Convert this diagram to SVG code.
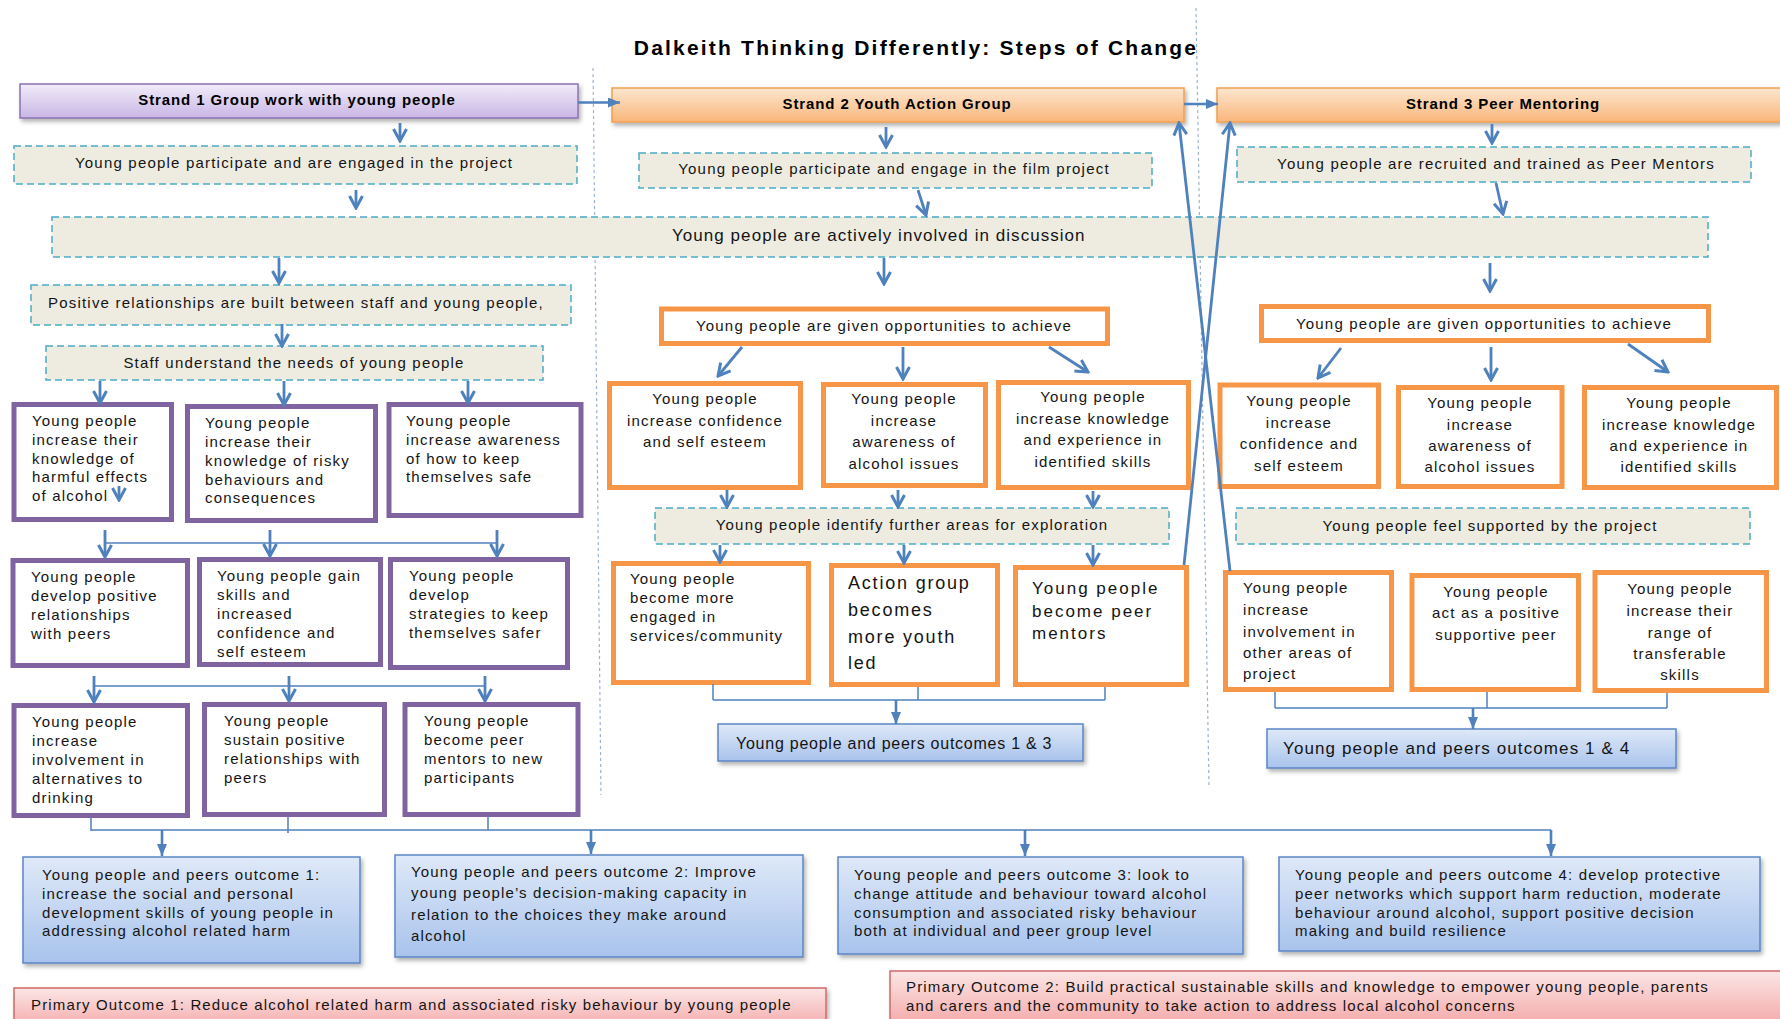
<svg xmlns="http://www.w3.org/2000/svg" width="1780" height="1019" viewBox="0 0 1780 1019">
<style>
text{font-family:"Liberation Sans",Arial,sans-serif;font-size:15px;letter-spacing:1.2px;fill:#141414}
.c{text-anchor:middle}
.hd{font-weight:bold;letter-spacing:0.9px;fill:#000}
.title{font-weight:bold;font-size:21px;letter-spacing:2.2px;fill:#000}
.oc{letter-spacing:1.15px}
.dash{fill:#eeece1;stroke:#4bacc6;stroke-width:1.5;stroke-dasharray:7 4}
.pur{fill:#fff;stroke:#8064a2;stroke-width:5}
.org{fill:#fff;stroke:#f79646;stroke-width:5}
.s1{fill:url(#gPur);stroke:#8a72b0;stroke-width:1.5;filter:url(#sh)}
.s2{fill:url(#gOrg);stroke:#f0a050;stroke-width:1.5;filter:url(#sh)}
.blue{fill:url(#gBlue);stroke:#5b86c5;stroke-width:1.5;filter:url(#sh)}
.pink{fill:url(#gPink);stroke:#d06a6a;stroke-width:1.5;filter:url(#sh)}
.sep{stroke:#9bb3cf;stroke-width:1.2;stroke-dasharray:3 3;fill:none}
.ar{stroke:#4f81bd;stroke-width:2.8;fill:none;marker-end:url(#vee)}
.at{stroke:#4f81bd;stroke-width:2.6;fill:none;marker-end:url(#tri)}
.bus{stroke:#4f81bd;stroke-width:1.5;fill:none}
</style>
<defs>
<linearGradient id="gPur" x1="0" y1="0" x2="0" y2="1"><stop offset="0" stop-color="#f1ecf9"/><stop offset="1" stop-color="#c9b6e5"/></linearGradient>
<linearGradient id="gOrg" x1="0" y1="0" x2="0" y2="1"><stop offset="0" stop-color="#fde6cf"/><stop offset="1" stop-color="#f9b67a"/></linearGradient>
<linearGradient id="gBlue" x1="0" y1="0" x2="0" y2="1"><stop offset="0" stop-color="#dfe9f8"/><stop offset="1" stop-color="#a8c3ec"/></linearGradient>
<linearGradient id="gPink" x1="0" y1="0" x2="0" y2="1"><stop offset="0" stop-color="#fce6e6"/><stop offset="1" stop-color="#f3a2a2"/></linearGradient>
<filter id="sh" x="-5%" y="-20%" width="110%" height="150%"><feDropShadow dx="2" dy="3" stdDeviation="2" flood-color="#000" flood-opacity="0.3"/></filter>
<marker id="vee" viewBox="0 0 16 16" markerWidth="16" markerHeight="16" refX="14" refY="8" orient="auto" markerUnits="userSpaceOnUse"><path d="M2,1.5 L14,8 L2,14.5" fill="none" stroke="#4f81bd" stroke-width="3"/></marker>
<marker id="tri" viewBox="0 0 12 10" markerWidth="12" markerHeight="10" refX="12" refY="5" orient="auto" markerUnits="userSpaceOnUse"><path d="M0,0 L12,5 L0,10 z" fill="#4f81bd"/></marker>
</defs>
<rect width="1780" height="1019" fill="#fff"/>

<g id="separators">
<line class="sep" x1="593" y1="68" x2="601" y2="795"/>
<line class="sep" x1="1196" y1="8" x2="1209" y2="787"/>
</g>

<text id="title" class="title c" x="916" y="55">Dalkeith Thinking Differently: Steps of Change</text>

<g id="strand1"><rect class="s1" x="20" y="84" width="558" height="34"/><text class="hd c" x="297" y="105">Strand 1 Group work with young people</text></g>
<g id="strand2"><rect class="s2" x="612" y="88" width="572" height="34"/><text class="hd c" x="897" y="109">Strand 2 Youth Action Group</text></g>
<g id="strand3"><rect class="s2" x="1217" y="88" width="575" height="34"/><text class="hd c" x="1503" y="109">Strand 3 Peer Mentoring</text></g>

<g id="s1-participate"><rect class="dash" x="14" y="146" width="563" height="38"/><text x="75" y="168">Young people participate and are engaged in the project</text></g>
<g id="s2-participate"><rect class="dash" x="639" y="153" width="513" height="35"/><text class="c" x="894" y="174">Young people participate and engage in the film project</text></g>
<g id="s3-recruited"><rect class="dash" x="1237" y="147" width="514" height="35"/><text class="c" x="1496" y="169">Young people are recruited and trained as Peer Mentors</text></g>

<g id="discussion"><rect class="dash" x="52" y="217" width="1656" height="40"/><text x="672" y="241" style="font-size:17px;letter-spacing:1.05px">Young people are actively involved in discussion</text></g>

<g id="s1-relationships"><rect class="dash" x="31" y="285" width="540" height="40"/><text x="48" y="308">Positive relationships are built between staff and young people,</text></g>
<g id="s1-staff"><rect class="dash" x="46" y="346" width="497" height="34"/><text class="c" x="294" y="368">Staff understand the needs of young people</text></g>

<g id="s2-opportunities"><rect class="org" x="661.5" y="309" width="446" height="34.5"/><text class="c" x="884" y="331">Young people are given opportunities to achieve</text></g>
<g id="s3-opportunities"><rect class="org" x="1261.5" y="306.5" width="447" height="34"/><text class="c" x="1484" y="329">Young people are given opportunities to achieve</text></g>

<g id="s1-a"><rect class="pur" x="14" y="404.5" width="157.5" height="115"/><text x="32" y="426">Young people</text><text x="32" y="445">increase their</text><text x="32" y="463.5">knowledge of</text><text x="32" y="482">harmful effects</text><text x="32" y="501">of alcohol</text></g>
<g id="s1-b"><rect class="pur" x="187.5" y="406.5" width="188" height="114"/><text x="205" y="428">Young people</text><text x="205" y="447">increase their</text><text x="205" y="466">knowledge of risky</text><text x="205" y="484.5">behaviours and</text><text x="205" y="503">consequences</text></g>
<g id="s1-c"><rect class="pur" x="389" y="404.5" width="192" height="111"/><text x="406" y="426">Young people</text><text x="406" y="445">increase awareness</text><text x="406" y="463.5">of how to keep</text><text x="406" y="482">themselves safe</text></g>
<g id="s1-d"><rect class="pur" x="13" y="560.5" width="174.5" height="105"/><text x="31" y="582">Young people</text><text x="31" y="601">develop positive</text><text x="31" y="620">relationships</text><text x="31" y="639">with peers</text></g>
<g id="s1-e"><rect class="pur" x="199.5" y="559.5" width="181" height="105"/><text x="217" y="581">Young people gain</text><text x="217" y="599.5">skills and</text><text x="217" y="618.5">increased</text><text x="217" y="637.5">confidence and</text><text x="217" y="656.5">self esteem</text></g>
<g id="s1-f"><rect class="pur" x="390.5" y="559.5" width="177" height="108"/><text x="409" y="581">Young people</text><text x="409" y="599.5">develop</text><text x="409" y="619">strategies to keep</text><text x="409" y="638">themselves safer</text></g>
<g id="s1-g"><rect class="pur" x="14" y="705.5" width="173.5" height="110"/><text x="32" y="727">Young people</text><text x="32" y="746">increase</text><text x="32" y="765">involvement in</text><text x="32" y="784">alternatives to</text><text x="32" y="803">drinking</text></g>
<g id="s1-h"><rect class="pur" x="204.5" y="704.5" width="180" height="110"/><text x="224" y="726">Young people</text><text x="224" y="745">sustain positive</text><text x="224" y="764">relationships with</text><text x="224" y="783">peers</text></g>
<g id="s1-i"><rect class="pur" x="405" y="704.5" width="173" height="110"/><text x="424" y="726">Young people</text><text x="424" y="745">become peer</text><text x="424" y="764">mentors to new</text><text x="424" y="783">participants</text></g>

<g id="s2-j"><rect class="org" x="609.5" y="383.5" width="191" height="104"/><text class="c" x="705" y="404">Young people</text><text class="c" x="705" y="425.5">increase confidence</text><text class="c" x="705" y="447">and self esteem</text></g>
<g id="s2-k"><rect class="org" x="823.5" y="384.5" width="162" height="101"/><text class="c" x="904" y="404">Young people</text><text class="c" x="904" y="425.5">increase</text><text class="c" x="904" y="447">awareness of</text><text class="c" x="904" y="468.5">alcohol issues</text></g>
<g id="s2-l"><rect class="org" x="998.5" y="382.5" width="190" height="105"/><text class="c" x="1093" y="402">Young people</text><text class="c" x="1093" y="423.5">increase knowledge</text><text class="c" x="1093" y="445">and experience in</text><text class="c" x="1093" y="466.5">identified skills</text></g>
<g id="s2-identify"><rect class="dash" x="655" y="508" width="514" height="36"/><text class="c" x="912" y="530">Young people identify further areas for exploration</text></g>
<g id="s2-m"><rect class="org" x="613.5" y="563.5" width="195" height="119"/><text x="630" y="584">Young people</text><text x="630" y="603">become more</text><text x="630" y="622">engaged in</text><text x="630" y="640.5">services/community</text></g>
<g id="s2-n"><rect class="org" x="831.5" y="565.5" width="166" height="119"/><text x="848" y="589" style="font-size:18px;letter-spacing:1.8px">Action group</text><text x="848" y="616" style="font-size:18px;letter-spacing:1.8px">becomes</text><text x="848" y="643" style="font-size:18px;letter-spacing:1.8px">more youth</text><text x="848" y="669" style="font-size:18px;letter-spacing:1.8px">led</text></g>
<g id="s2-o"><rect class="org" x="1015.5" y="567.5" width="171" height="117"/><text x="1032" y="594" style="font-size:17px;letter-spacing:2px">Young people</text><text x="1032" y="617" style="font-size:17px;letter-spacing:2px">become peer</text><text x="1032" y="639" style="font-size:17px;letter-spacing:2px">mentors</text></g>
<g id="s2-outcomes"><rect class="blue" x="718" y="724" width="365" height="37"/><text x="736" y="749" style="font-size:16px;letter-spacing:0.75px">Young people and peers outcomes 1 &amp; 3</text></g>

<g id="s3-q"><rect class="org" x="1220" y="385" width="158.5" height="101.5"/><text class="c" x="1299" y="406">Young people</text><text class="c" x="1299" y="427.5">increase</text><text class="c" x="1299" y="449">confidence and</text><text class="c" x="1299" y="470.5">self esteem</text></g>
<g id="s3-r"><rect class="org" x="1398.5" y="387.5" width="163.5" height="99"/><text class="c" x="1480" y="408">Young people</text><text class="c" x="1480" y="429.5">increase</text><text class="c" x="1480" y="451">awareness of</text><text class="c" x="1480" y="472">alcohol issues</text></g>
<g id="s3-s"><rect class="org" x="1584.5" y="387.5" width="192" height="100"/><text class="c" x="1679" y="408">Young people</text><text class="c" x="1679" y="429.5">increase knowledge</text><text class="c" x="1679" y="451">and experience in</text><text class="c" x="1679" y="472">identified skills</text></g>
<g id="s3-supported"><rect class="dash" x="1236" y="508" width="514" height="36"/><text class="c" x="1490" y="531">Young people feel supported by the project</text></g>
<g id="s3-t"><rect class="org" x="1225.5" y="572.5" width="166" height="117"/><text x="1243" y="593">Young people</text><text x="1243" y="615">increase</text><text x="1243" y="637">involvement in</text><text x="1243" y="658">other areas of</text><text x="1243" y="679">project</text></g>
<g id="s3-u"><rect class="org" x="1412" y="575.5" width="166.5" height="114"/><text class="c" x="1496" y="597">Young people</text><text class="c" x="1496" y="618">act as a positive</text><text class="c" x="1496" y="640">supportive peer</text></g>
<g id="s3-v"><rect class="org" x="1595" y="572.5" width="171.5" height="118"/><text class="c" x="1680" y="594">Young people</text><text class="c" x="1680" y="616">increase their</text><text class="c" x="1680" y="638">range of</text><text class="c" x="1680" y="659">transferable</text><text class="c" x="1680" y="680">skills</text></g>
<g id="s3-outcomes"><rect class="blue" x="1267" y="729" width="409" height="39"/><text x="1283" y="754" style="font-size:17px;letter-spacing:1.1px">Young people and peers outcomes 1 &amp; 4</text></g>

<g id="outcome1"><rect class="blue" x="23" y="857" width="337" height="106"/><text class="oc" x="42" y="880">Young people and peers outcome 1:</text><text class="oc" x="42" y="899">increase the social and personal</text><text class="oc" x="42" y="917.5">development skills of young people in</text><text class="oc" x="42" y="936">addressing alcohol related harm</text></g>
<g id="outcome2"><rect class="blue" x="395" y="855" width="408" height="102"/><text class="oc" x="411" y="877">Young people and peers outcome 2: Improve</text><text class="oc" x="411" y="898">young people’s decision-making capacity in</text><text class="oc" x="411" y="920">relation to the choices they make around</text><text class="oc" x="411" y="941">alcohol</text></g>
<g id="outcome3"><rect class="blue" x="838" y="857" width="405" height="97"/><text class="oc" x="854" y="880">Young people and peers outcome 3: look to</text><text class="oc" x="854" y="899">change attitude and behaviour toward alcohol</text><text class="oc" x="854" y="917.5">consumption and associated risky behaviour</text><text class="oc" x="854" y="936">both at individual and peer group level</text></g>
<g id="outcome4"><rect class="blue" x="1279" y="857" width="481" height="94"/><text class="oc" x="1295" y="880">Young people and peers outcome 4: develop protective</text><text class="oc" x="1295" y="899">peer networks which support harm reduction, moderate</text><text class="oc" x="1295" y="917.5">behaviour around alcohol, support positive decision</text><text class="oc" x="1295" y="936">making and build resilience</text></g>

<g id="primary1"><rect class="pink" x="14" y="988" width="812" height="45"/><text class="oc" x="31" y="1010">Primary Outcome 1: Reduce alcohol related harm and associated risky behaviour by young people</text></g>
<g id="primary2"><rect class="pink" x="890" y="971" width="895" height="60"/><text class="oc" x="906" y="992">Primary Outcome 2: Build practical sustainable skills and knowledge to empower young people, parents</text><text class="oc" x="906" y="1011">and carers and the community to take action to address local alcohol concerns</text></g>

<g id="connectors">
<line class="at" x1="578" y1="102.5" x2="620" y2="102.5"/>
<line class="at" x1="1184" y1="104" x2="1218" y2="104"/>
<line class="ar" x1="400" y1="123" x2="400" y2="141"/>
<line class="ar" x1="356" y1="190" x2="356" y2="208"/>
<line class="ar" x1="279" y1="258" x2="279" y2="283"/>
<line class="ar" x1="282" y1="324" x2="282" y2="346"/>
<line class="ar" x1="100" y1="381" x2="100" y2="403"/>
<line class="ar" x1="284" y1="381" x2="284" y2="405"/>
<line class="ar" x1="468" y1="381" x2="468" y2="403"/>
<line class="ar" x1="119" y1="486" x2="119" y2="500"/>
<line class="bus" x1="105" y1="543" x2="497" y2="543"/>
<line class="ar" x1="105" y1="530" x2="105" y2="557"/>
<line class="ar" x1="270" y1="530" x2="270" y2="556"/>
<line class="ar" x1="497" y1="530" x2="497" y2="556"/>
<line class="bus" x1="94" y1="686" x2="485" y2="686"/>
<line class="ar" x1="94" y1="676" x2="94" y2="702"/>
<line class="ar" x1="289" y1="676" x2="289" y2="701"/>
<line class="ar" x1="485" y1="676" x2="485" y2="701"/>
<line class="ar" x1="886" y1="127" x2="886" y2="147"/>
<line class="ar" x1="918" y1="190" x2="926" y2="215"/>
<line class="ar" x1="884" y1="258" x2="884" y2="284"/>
<line class="ar" x1="742" y1="347" x2="718" y2="376"/>
<line class="ar" x1="903" y1="347" x2="903" y2="379"/>
<line class="ar" x1="1049" y1="347" x2="1088" y2="372"/>
<line class="ar" x1="727" y1="490" x2="727" y2="507"/>
<line class="ar" x1="898" y1="490" x2="898" y2="507"/>
<line class="ar" x1="1093" y1="491" x2="1093" y2="507"/>
<line class="ar" x1="720" y1="545" x2="720" y2="562"/>
<line class="ar" x1="904" y1="545" x2="904" y2="563"/>
<line class="ar" x1="1093" y1="545" x2="1093" y2="565"/>
<line class="bus" x1="713" y1="684" x2="713" y2="700"/>
<line class="bus" x1="918" y1="687" x2="918" y2="700"/>
<line class="bus" x1="1105" y1="687" x2="1105" y2="700"/>
<line class="bus" x1="713" y1="700" x2="1105" y2="700"/>
<line class="at" x1="896" y1="700" x2="896" y2="724"/>
<line class="ar" x1="1492" y1="124" x2="1492" y2="143"/>
<line class="ar" x1="1496" y1="183" x2="1503" y2="214"/>
<line class="ar" x1="1490" y1="263" x2="1490" y2="291"/>
<line class="ar" x1="1341" y1="348" x2="1318" y2="378"/>
<line class="ar" x1="1491" y1="347" x2="1491" y2="380"/>
<line class="ar" x1="1628" y1="344" x2="1668" y2="372"/>
<line class="bus" x1="1275" y1="692" x2="1275" y2="708"/>
<line class="bus" x1="1487" y1="692" x2="1487" y2="708"/>
<line class="bus" x1="1667" y1="693" x2="1667" y2="708"/>
<line class="bus" x1="1275" y1="708" x2="1667" y2="708"/>
<line class="at" x1="1473" y1="708" x2="1473" y2="729"/>
<line class="ar" x1="1184" y1="565" x2="1230" y2="123"/>
<line class="ar" x1="1230" y1="571" x2="1179" y2="123"/>
<line class="bus" x1="91" y1="818" x2="91" y2="831"/>
<line class="bus" x1="288" y1="817" x2="288" y2="833"/>
<line class="bus" x1="488" y1="817" x2="488" y2="830"/>
<line class="bus" x1="91" y1="830" x2="1551" y2="830"/>
<line class="at" x1="162" y1="830" x2="162" y2="856"/>
<line class="at" x1="591" y1="830" x2="591" y2="854"/>
<line class="at" x1="1025" y1="830" x2="1025" y2="856"/>
<line class="at" x1="1551" y1="830" x2="1551" y2="856"/>
</g>
</svg>
